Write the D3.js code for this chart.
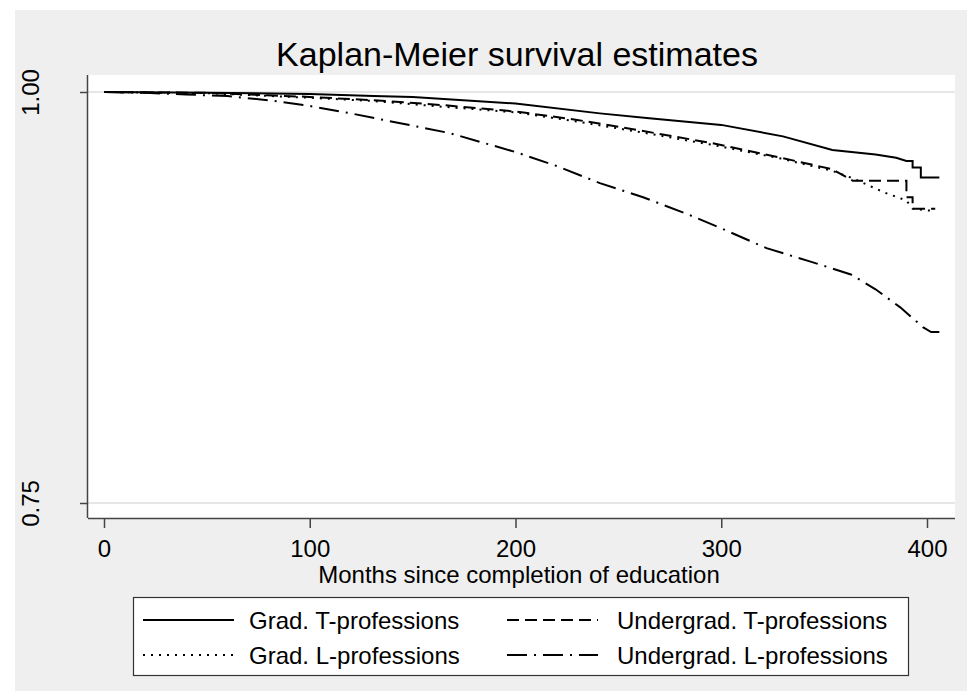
<!DOCTYPE html>
<html>
<head>
<meta charset="utf-8">
<script src="https://cdn.jsdelivr.net/npm/d3@7"></script>
<style>
  body { margin: 0; background: #fff; }
  text { font-family: "Liberation Sans", Arial, sans-serif; fill: #000; }
</style>
</head>
<body>
<div id="chart"></div>
<script>
// Survival estimates (months, survival)
const gradTMonths = [0, 50, 100, 131, 150, 200, 241, 265, 300, 330, 354, 375, 385, 390, 393, 393, 397, 397, 406];
const gradTValues = [1, 0.9995, 0.9988, 0.9976, 0.997, 0.993, 0.987, 0.984, 0.980, 0.973, 0.9647, 0.962, 0.960, 0.958, 0.958, 0.954, 0.954, 0.948, 0.948];

const undergradTMonths = [0, 50, 100, 131, 165, 201, 230, 261, 295, 329, 354, 364, 390, 390, 393, 393, 404];
const undergradTValues = [1, 0.9995, 0.997, 0.995, 0.992, 0.988, 0.983, 0.9765, 0.969, 0.960, 0.953, 0.946, 0.946, 0.936, 0.936, 0.929, 0.929];

const gradLMonths = [0, 50, 100, 131, 165, 201, 230, 261, 295, 329, 354, 364, 379, 390, 393, 404];
const gradLValues = [1, 0.9993, 0.9965, 0.9945, 0.991, 0.9875, 0.982, 0.9755, 0.968, 0.9595, 0.952, 0.9475, 0.939, 0.934, 0.929, 0.9275];

const undergradLMonths = [0, 20, 40, 60, 80, 100, 120, 144, 168, 200, 220, 241, 262, 283, 302, 322, 343, 363, 375, 387, 398, 402, 406];
const undergradLValues = [1, 0.9995, 0.9985, 0.9975, 0.995, 0.9915, 0.987, 0.981, 0.975, 0.9635, 0.955, 0.9446, 0.936, 0.926, 0.916, 0.905, 0.897, 0.889, 0.880, 0.869, 0.857, 0.854, 0.854];

const seriesNames = ["Grad. T-professions", "Undergrad. T-professions", "Grad. L-professions", "Undergrad. L-professions"];
const xTicks = [0, 100, 200, 300, 400];
const yTicks = [0.75, 1.00];

const width = 967, height = 691;

const series = [
    { name: seriesNames[0], months: gradTMonths, values: gradTValues, dash: null },
    { name: seriesNames[1], months: undergradTMonths, values: undergradTValues, dash: "12,6" },
    { name: seriesNames[2], months: gradLMonths, values: gradLValues, dash: "2,6" },
    { name: seriesNames[3], months: undergradLMonths, values: undergradLValues, dash: "20,7,2,7" }
];

const svg = d3.select("#chart").append("svg")
    .attr("width", width)
    .attr("height", height);

// outer grey background
svg.append("rect")
    .attr("x", 15).attr("y", 10)
    .attr("width", width - 15).attr("height", height - 10)
    .attr("fill", "#efefef");

// plot region
const plot = { left: 88, right: 955, top: 75, bottom: 518 };
svg.append("rect")
    .attr("x", plot.left).attr("y", plot.top)
    .attr("width", plot.right - plot.left).attr("height", plot.bottom - plot.top)
    .attr("fill", "#fff");

const x = d3.scaleLinear().domain([0, 400]).range([104, 927]);
const y = d3.scaleLinear().domain([0.75, 1]).range([503, 92]);

// gridlines
svg.selectAll(".grid").data(yTicks).enter().append("line")
    .attr("x1", plot.left).attr("x2", plot.right)
    .attr("y1", d => y(d)).attr("y2", d => y(d))
    .attr("stroke", "#e6e6e6").attr("stroke-width", 2);

// curves
const line = d3.line()
    .x(d => x(d[0]))
    .y(d => y(d[1]));

series.forEach(s => {
    svg.append("path")
        .datum(s.months.map((m, i) => [m, s.values[i]]))
        .attr("d", line)
        .attr("fill", "none")
        .attr("stroke", "#000")
        .attr("stroke-width", 2)
        .attr("stroke-dasharray", s.dash);
});

// X axis
const xAxis = d3.axisBottom(x).tickValues(xTicks).tickSize(10).tickPadding(12).tickSizeOuter(0);
const gx = svg.append("g")
    .attr("transform", `translate(0,${plot.bottom})`)
    .call(xAxis);
gx.select(".domain").attr("d", `M${plot.left},0.5H${plot.right}`).attr("stroke", "#444").attr("stroke-width", 1.5);
gx.selectAll(".tick line").attr("stroke", "#444").attr("stroke-width", 1.5);
gx.selectAll(".tick text").attr("font-size", 24).attr("font-family", "Liberation Sans, Arial, sans-serif").attr("fill", "#000");

// Y axis
const yAxis = d3.axisLeft(y).tickValues(yTicks).tickFormat(d3.format(".2f")).tickSize(8).tickSizeOuter(0);
const gy = svg.append("g")
    .attr("transform", `translate(${plot.left},0)`)
    .call(yAxis);
gy.select(".domain").attr("d", `M-0.5,${plot.top}V${plot.bottom}`).attr("stroke", "#444").attr("stroke-width", 1.5);
gy.selectAll(".tick line").attr("stroke", "#444").attr("stroke-width", 1.5);
gy.selectAll(".tick text")
    .attr("font-size", 24)
    .attr("font-family", "Liberation Sans, Arial, sans-serif")
    .attr("fill", "#000")
    .attr("x", null).attr("dy", null)
    .attr("text-anchor", "middle")
    .attr("transform", "translate(-49,0) rotate(-90)");

// title
svg.append("text")
    .attr("x", 517).attr("y", 66)
    .attr("text-anchor", "middle")
    .attr("font-size", 34)
    .text("Kaplan-Meier survival estimates");

// x axis title
svg.append("text")
    .attr("x", 519).attr("y", 583)
    .attr("text-anchor", "middle")
    .attr("font-size", 24)
    .text("Months since completion of education");

// legend
const legend = svg.append("g");
legend.append("rect")
    .attr("x", 133.5).attr("y", 597.5)
    .attr("width", 775).attr("height", 78)
    .attr("fill", "#fff")
    .attr("stroke", "#333").attr("stroke-width", 1.2);

const legendPos = [
    { lx: 143, tx: 249, y: 620 },
    { lx: 507, tx: 617, y: 620 },
    { lx: 143, tx: 249, y: 655 },
    { lx: 507, tx: 617, y: 655 }
];

series.forEach((s, i) => {
    const p = legendPos[i];
    legend.append("line")
        .attr("x1", p.lx).attr("x2", p.lx + 91)
        .attr("y1", p.y).attr("y2", p.y)
        .attr("stroke", "#000").attr("stroke-width", 2)
        .attr("stroke-dasharray", s.dash);
    legend.append("text")
        .attr("x", p.tx).attr("y", p.y + 9)
        .attr("font-size", 24)
        .text(s.name);
});
</script>
</body>
</html>
